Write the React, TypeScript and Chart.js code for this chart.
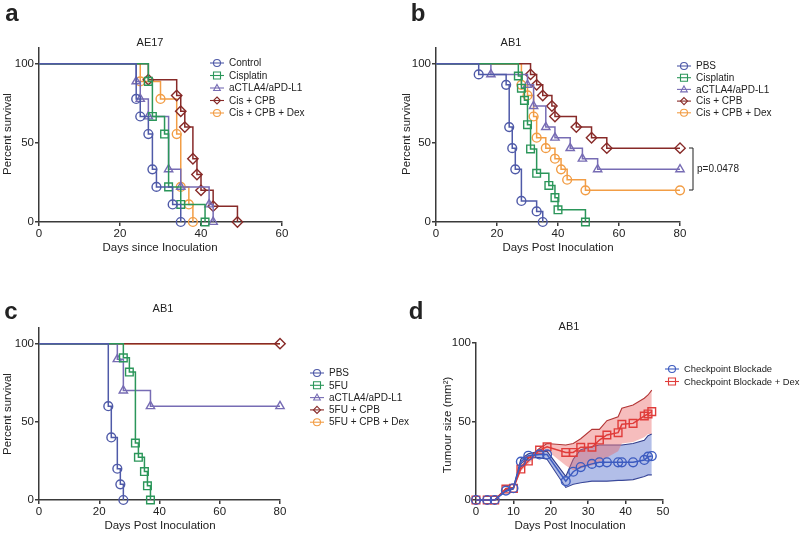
import React, { useEffect, useRef } from "react";
import { Chart, registerables } from "chart.js";

Chart.register(...registerables);

const FONT = '"Liberation Sans", Arial, Helvetica, sans-serif';
Chart.defaults.font.family = FONT;

// ---------- colours ----------
const BLUE = "#4f5aa8";
const GREEN = "#2b965a";
const PURPLE = "#776cb4";
const DRED = "#872a28";
const ORANGE = "#f29d45";
const D_BLUE = "#3d5cc0";
const D_RED = "#e03c3a";
const AX = "#3a3a3a";

// ---------- tick labels ----------
const survivalTicks = [0, 50, 100];
const ticksA = [0, 20, 40, 60];
const ticksBC = [0, 20, 40, 60, 80];
const ticksD = [0, 10, 20, 30, 40, 50];
const tumourTicks = [0, 50, 100];

// ---------- panel a : AE17 ----------
const aControlDays = [0, 24, 25, 27, 28, 29, 33, 35];
const aControlSurv = [100, 77.8, 66.7, 55.6, 33.3, 22.2, 11.1, 0];
const aCisDays = [0, 27, 28, 31, 32, 35, 41];
const aCisSurv = [100, 88.9, 66.7, 55.6, 22.2, 11.1, 0];
const aCtlaDays = [0, 24, 25, 27, 32, 35, 42, 43];
const aCtlaSurv = [100, 88.9, 77.8, 66.7, 33.3, 22.2, 11.1, 0];
const aCpbDays = [0, 27, 34, 35, 36, 38, 39, 40, 43, 49];
const aCpbSurv = [100, 90, 80, 70, 60, 40, 30, 20, 10, 0];
const aDexDays = [0, 25, 30, 34, 35, 37, 38];
const aDexSurv = [100, 88.9, 77.8, 55.6, 22.2, 11.1, 0];

// ---------- panel b : AB1 ----------
const bPbsDays = [0, 14, 23, 24, 25, 26, 28, 33, 35];
const bPbsSurv = [100, 93.3, 86.7, 60, 46.7, 33.3, 13.3, 6.7, 0];
const bCisDays = [0, 27, 28, 29, 30, 31, 33, 37, 39, 40, 49];
const bCisSurv = [100, 92.3, 84.6, 76.9, 61.5, 46.2, 30.8, 23.1, 15.4, 7.7, 0];
const bCtlaDays = [0, 18, 30, 32, 36, 39, 44, 48, 53, 80];
const bCtlaSurv = [100, 93.3, 86.7, 73.3, 60, 53.3, 46.7, 40, 33.3, 33.3];
const bCpbDays = [0, 31, 33, 35, 38, 39, 46, 51, 56, 80];
const bCpbSurv = [100, 93.3, 86.7, 80, 73.3, 66.7, 60, 53.3, 46.7, 46.7];
const bDexDays = [0, 28, 30, 32, 33, 36, 39, 41, 43, 49, 80];
const bDexSurv = [100, 86.7, 80, 66.7, 53.3, 46.7, 40, 33.3, 26.7, 20, 20];

// ---------- panel c : AB1 ----------
const cPbsDays = [0, 23, 24, 26, 27, 28];
const cPbsSurv = [100, 60, 40, 20, 10, 0];
const cFuDays = [0, 28, 30, 32, 33, 35, 36, 37];
const cFuSurv = [100, 90.9, 81.8, 36.4, 27.3, 18.2, 9.1, 0];
const cCtlaDays = [0, 26, 28, 37, 80];
const cCtlaSurv = [100, 90, 70, 60, 60];
const cCpbDays = [0, 80];
const cCpbSurv = [100, 100];
const cDexDays = [0, 80];
const cDexSurv = [100, 100];

// ---------- panel d : tumour growth ----------
const dDays = [0, 3, 5, 8, 10, 12, 14, 17, 19, 24, 26, 28, 31, 33, 35, 38, 39, 42, 45, 46, 47];
const dCbMean = [0, 0, 0, 6, 7.5, 24.4, 28.2, 29, 29, 12, 18, 21, 23, 24, 24, 24, 24, 24, 25.5, 27.6, 28];
const dCbUpper = [0, 0, 0, 6.5, 8, 26, 29.5, 31, 31, 15, 26, 32, 34, 35, 35, 35, 35, 36, 38, 41, 42];
const dCbLower = [0, 0, 0, 5.5, 7, 23, 27, 27, 26, 8, 10, 11, 12, 12, 12, 12.5, 12.5, 13, 15, 16, 16];
const dDexMean = [0, 0, 0, 7, 7.4, 19.7, 24.8, 31.8, 33.9, 30.3, 30.3, 33.6, 33.6, 38.2, 41.4, 42.9, 48.2, 48.8, 53.5, 54.8, 56.3];
const dDexUpper = [0, 0, 0, 7.5, 8, 21, 26.5, 33, 36, 35, 36, 39, 45, 45, 50.5, 53, 58.4, 60.5, 64.8, 66.9, 70];
const dDexLower = [0, 0, 0, 6.5, 7, 18.5, 23, 30, 31.5, 22, 19, 20, 22, 24, 27, 31, 36, 37, 40, 42, 42];

// ---------- helpers ----------
const pts = (xs: number[], ys: number[]) => xs.map((x, i) => ({ x, y: ys[i] }));
const RADIUS: Record<string, number> = { circle: 4.4, rect: 5.4, triangle: 4.8, rectRot: 5.2 };

function km(label: string, days: number[], surv: number[], color: string, style: string, hideAll = false) {
  const r = RADIUS[style];
  return {
    label,
    data: pts(days, surv),
    borderColor: color,
    borderWidth: 1.5,
    stepped: true,
    fill: false,
    pointStyle: style,
    pointRadius: (c: any) => (hideAll || c.dataIndex === 0 ? 0 : r),
    pointBorderColor: color,
    pointBackgroundColor: "rgba(255,255,255,0)",
    pointBorderWidth: 1.4,
    clip: false,
  };
}

function growth(label: string, ys: number[], color: string, style: string) {
  return {
    label,
    data: pts(dDays, ys),
    borderColor: color,
    borderWidth: 1.5,
    fill: false,
    pointStyle: style,
    pointRadius: RADIUS[style],
    pointBorderColor: color,
    pointBackgroundColor: "rgba(255,255,255,0)",
    pointBorderWidth: 1.4,
    clip: false,
  };
}

function band(label: string, ys: number[], line: string, width: number, fill: any, bg: string) {
  return {
    label,
    data: pts(dDays, ys),
    borderColor: line,
    borderWidth: width,
    pointRadius: 0,
    fill,
    backgroundColor: bg,
    clip: false,
  };
}

type Txt = { t: string; x: number; y: number; size: number; bold?: boolean; align?: CanvasTextAlign; rot?: boolean };
type Leg = { label: string; color: string; style: string; x: number; y: number; size?: number };
type Seg = [number, number, number, number];

function drawMarker(ctx: CanvasRenderingContext2D, style: string, x: number, y: number, r: number, color: string) {
  ctx.beginPath();
  if (style === "circle") ctx.arc(x, y, r, 0, Math.PI * 2);
  else if (style === "rect") ctx.rect(x - r, y - r, 2 * r, 2 * r);
  else if (style === "triangle") {
    ctx.moveTo(x, y - r);
    ctx.lineTo(x + r * 0.95, y + r * 0.7);
    ctx.lineTo(x - r * 0.95, y + r * 0.7);
    ctx.closePath();
  } else {
    ctx.moveTo(x, y - r);
    ctx.lineTo(x + r, y);
    ctx.lineTo(x, y + r);
    ctx.lineTo(x - r, y);
    ctx.closePath();
  }
  ctx.strokeStyle = color;
  ctx.lineWidth = 1.1;
  ctx.stroke();
}

function makeAnnot(ox: number, oy: number, texts: Txt[], legend: Leg[], segs: Seg[]) {
  return {
    id: "annot",
    afterDraw(chart: any) {
      const ctx: CanvasRenderingContext2D = chart.ctx;
      ctx.save();
      ctx.fillStyle = "#222";
      ctx.textBaseline = "middle";
      for (const t of texts) {
        ctx.font = `${t.bold ? "bold " : ""}${t.size}px ${FONT}`;
        ctx.textAlign = t.align || "center";
        if (t.rot) {
          ctx.save();
          ctx.translate(t.x - ox, t.y - oy);
          ctx.rotate(-Math.PI / 2);
          ctx.fillText(t.t, 0, 0);
          ctx.restore();
        } else ctx.fillText(t.t, t.x - ox, t.y - oy);
      }
      for (const l of legend) {
        const x = l.x - ox;
        const y = l.y - oy;
        ctx.beginPath();
        ctx.moveTo(x - 7, y);
        ctx.lineTo(x + 7, y);
        ctx.strokeStyle = l.color;
        ctx.lineWidth = 1.1;
        ctx.stroke();
        drawMarker(ctx, l.style, x, y, 3.5, l.color);
        ctx.fillStyle = "#222";
        ctx.font = `${l.size || 10}px ${FONT}`;
        ctx.textAlign = "left";
        ctx.fillText(l.label, x + 12, y + 0.5);
      }
      ctx.strokeStyle = "#333";
      ctx.lineWidth = 1.1;
      for (const s of segs) {
        ctx.beginPath();
        ctx.moveTo(s[0] - ox, s[1] - oy);
        ctx.lineTo(s[2] - ox, s[3] - oy);
        ctx.stroke();
      }
      ctx.restore();
    },
  };
}

function axis(min: number, max: number, ticks: number[], fit: (s: any) => void) {
  return {
    type: "linear",
    min,
    max,
    afterBuildTicks: (s: any) => {
      s.ticks = ticks.map((v) => ({ value: v }));
    },
    afterFit: fit,
    grid: { display: true, drawOnChartArea: false, drawTicks: true, tickLength: 4, color: AX, lineWidth: 1.5 },
    border: { display: true, color: AX, width: 1.5 },
    ticks: { color: "#222", font: { size: 11.5, family: FONT }, padding: 1, maxRotation: 0, autoSkip: false },
  };
}

type Panel = {
  ox: number; oy: number; L: number; right: number; T: number; XH: number;
  xMax: number; xTicks: number[]; yMax: number; yTicks: number[];
  datasets: any[]; texts: Txt[]; legend: Leg[]; segs: Seg[];
};

const PH = 267;

const panels: Panel[] = [
  {
    ox: 0, oy: 0, L: 39, right: 282, T: 48, XH: 45, xMax: 60, xTicks: ticksA, yMax: 110, yTicks: survivalTicks,
    datasets: [
      km("Control", aControlDays, aControlSurv, BLUE, "circle"),
      km("Cisplatin", aCisDays, aCisSurv, GREEN, "rect"),
      km("aCTLA4/aPD-L1", aCtlaDays, aCtlaSurv, PURPLE, "triangle"),
      km("Cis + CPB", aCpbDays, aCpbSurv, DRED, "rectRot"),
      km("Cis + CPB + Dex", aDexDays, aDexSurv, ORANGE, "circle"),
    ],
    texts: [
      { t: "a", x: 12, y: 14, size: 24, bold: true },
      { t: "AE17", x: 150, y: 43, size: 11 },
      { t: "Days since Inoculation", x: 160, y: 248, size: 11.5 },
      { t: "Percent survival", x: 8, y: 134, size: 11.5, rot: true },
    ],
    legend: [
      { label: "Control", color: BLUE, style: "circle", x: 217, y: 63 },
      { label: "Cisplatin", color: GREEN, style: "rect", x: 217, y: 75.5 },
      { label: "aCTLA4/aPD-L1", color: PURPLE, style: "triangle", x: 217, y: 88 },
      { label: "Cis + CPB", color: DRED, style: "rectRot", x: 217, y: 100.5 },
      { label: "Cis + CPB + Dex", color: ORANGE, style: "circle", x: 217, y: 113 },
    ],
    segs: [],
  },
  {
    ox: 400, oy: 0, L: 36, right: 280, T: 48, XH: 45, xMax: 80, xTicks: ticksBC, yMax: 110, yTicks: survivalTicks,
    datasets: [
      km("PBS", bPbsDays, bPbsSurv, BLUE, "circle"),
      km("Cisplatin", bCisDays, bCisSurv, GREEN, "rect"),
      km("aCTLA4/aPD-L1", bCtlaDays, bCtlaSurv, PURPLE, "triangle"),
      km("Cis + CPB", bCpbDays, bCpbSurv, DRED, "rectRot"),
      km("Cis + CPB + Dex", bDexDays, bDexSurv, ORANGE, "circle"),
    ],
    texts: [
      { t: "b", x: 418, y: 14, size: 24, bold: true },
      { t: "AB1", x: 511, y: 43, size: 11 },
      { t: "Days Post Inoculation", x: 558, y: 248, size: 11.5 },
      { t: "Percent survival", x: 407, y: 134, size: 11.5, rot: true },
      { t: "p=0.0478", x: 697, y: 169, size: 10, align: "left" },
    ],
    legend: [
      { label: "PBS", color: BLUE, style: "circle", x: 684, y: 66 },
      { label: "Cisplatin", color: GREEN, style: "rect", x: 684, y: 77.7 },
      { label: "aCTLA4/aPD-L1", color: PURPLE, style: "triangle", x: 684, y: 89.4 },
      { label: "Cis + CPB", color: DRED, style: "rectRot", x: 684, y: 101.1 },
      { label: "Cis + CPB + Dex", color: ORANGE, style: "circle", x: 684, y: 112.8 },
    ],
    segs: [
      [693, 148, 693, 190],
      [689, 148, 693, 148],
      [689, 190, 693, 190],
    ],
  },
  {
    ox: 0, oy: 267, L: 39, right: 280, T: 61, XH: 34, xMax: 80, xTicks: ticksBC, yMax: 110, yTicks: survivalTicks,
    datasets: [
      km("PBS", cPbsDays, cPbsSurv, BLUE, "circle"),
      km("5FU", cFuDays, cFuSurv, GREEN, "rect"),
      km("aCTLA4/aPD-L1", cCtlaDays, cCtlaSurv, PURPLE, "triangle"),
      km("5FU + CPB", cCpbDays, cCpbSurv, DRED, "rectRot"),
      km("5FU + CPB + Dex", cDexDays, cDexSurv, ORANGE, "circle", true),
    ],
    texts: [
      { t: "c", x: 11, y: 312, size: 24, bold: true },
      { t: "AB1", x: 163, y: 309, size: 11 },
      { t: "Days Post Inoculation", x: 160, y: 526, size: 11.5 },
      { t: "Percent survival", x: 8, y: 414, size: 11.5, rot: true },
    ],
    legend: [
      { label: "PBS", color: BLUE, style: "circle", x: 317, y: 373 },
      { label: "5FU", color: GREEN, style: "rect", x: 317, y: 385.3 },
      { label: "aCTLA4/aPD-L1", color: PURPLE, style: "triangle", x: 317, y: 397.6 },
      { label: "5FU + CPB", color: DRED, style: "rectRot", x: 317, y: 409.9 },
      { label: "5FU + CPB + Dex", color: ORANGE, style: "circle", x: 317, y: 422.2 },
    ],
    segs: [],
  },
  {
    ox: 400, oy: 267, L: 76, right: 263, T: 76, XH: 34, xMax: 50, xTicks: ticksD, yMax: 100, yTicks: tumourTicks,
    datasets: [
      growth("Checkpoint Blockade", dCbMean, D_BLUE, "circle"),
      growth("Checkpoint Blockade + Dex", dDexMean, D_RED, "rect"),
      band("Dex upper", dDexUpper, "#b33636", 1.1, "+1", "rgba(236,108,108,0.45)"),
      band("Dex lower", dDexLower, "rgba(0,0,0,0)", 0, false, "rgba(0,0,0,0)"),
      band("CB upper", dCbUpper, "#323d8a", 1.1, "+1", "rgba(85,110,205,0.45)"),
      band("CB lower", dCbLower, "#323d8a", 1.1, false, "rgba(0,0,0,0)"),
    ],
    texts: [
      { t: "d", x: 416, y: 312, size: 24, bold: true },
      { t: "AB1", x: 569, y: 327, size: 11 },
      { t: "Days Post Inoculation", x: 570, y: 526, size: 11.5 },
      { t: "Tumour size (mm²)", x: 448, y: 425, size: 11.5, rot: true },
    ],
    legend: [
      { label: "Checkpoint Blockade", color: D_BLUE, style: "circle", x: 672, y: 369, size: 9.4 },
      { label: "Checkpoint Blockade + Dex", color: D_RED, style: "rect", x: 672, y: 381.5, size: 9.4 },
    ],
    segs: [],
  },
];

const canvasWidth = (p: Panel) => 800 - p.ox;

function makeConfig(p: Panel): any {
  const W = canvasWidth(p);
  return {
    type: "line",
    data: { datasets: p.datasets },
    options: {
      responsive: false,
      animation: false,
      events: [],
      devicePixelRatio: 1,
      layout: { padding: { left: 0, right: W - p.right, top: p.T, bottom: 0 } },
      plugins: { legend: { display: false }, tooltip: { enabled: false }, title: { display: false } },
      scales: {
        x: axis(0, p.xMax, p.xTicks, (s: any) => {
          s.height = p.XH;
        }),
        y: axis(0, p.yMax, p.yTicks, (s: any) => {
          s.width = p.L;
        }),
      },
    },
    plugins: [makeAnnot(p.ox, p.oy, p.texts, p.legend, p.segs)],
  };
}

export default function App() {
  const refs = useRef<(HTMLCanvasElement | null)[]>([]);
  useEffect(() => {
    const charts = panels.map((p, i) => new Chart(refs.current[i] as HTMLCanvasElement, makeConfig(p)));
    return () => charts.forEach((c) => c.destroy());
  }, []);
  return (
    <div style={{ position: "fixed", left: 0, top: 0, width: 800, height: 534, background: "#fff", overflow: "hidden" }}>
      {panels.map((p, i) => (
        <canvas
          key={i}
          ref={(el) => {
            refs.current[i] = el;
          }}
          width={canvasWidth(p)}
          height={PH}
          style={{ position: "absolute", left: p.ox, top: p.oy, width: canvasWidth(p), height: PH }}
        />
      ))}
    </div>
  );
}
